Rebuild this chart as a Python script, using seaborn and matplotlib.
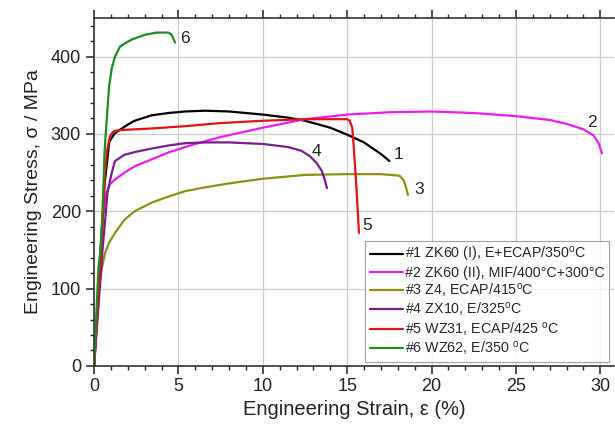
import matplotlib
matplotlib.use("Agg")
import matplotlib.pyplot as plt
from matplotlib.ticker import MultipleLocator
import seaborn as sns
import pandas as pd

# strain (%) / stress (MPa)
s1_x = [0, 0.3, 0.6, 0.9, 1.2, 1.5, 2, 2.4, 3.4, 4.4, 5.4, 6.6, 8, 10, 11.5, 12.5, 14, 15, 16, 17, 17.5]
s1_y = [0, 110, 230, 290, 300, 305, 312, 317, 324, 327, 329, 330, 329, 325, 321, 317, 308, 299, 289, 274, 265]

s2_x = [0, 0.3, 0.5, 0.7, 0.94, 1.24, 1.8, 2.4, 3.4, 4.4, 5.4, 6, 7.5, 10, 12.5, 15, 17.5, 20, 22.5,
        25, 27, 28, 29, 29.6, 29.9, 30.1]
s2_y = [0, 120, 190, 222, 235, 241, 250, 258, 267, 276, 283, 287, 296, 308, 319, 325, 328, 329, 327,
        323, 318, 313, 306, 298, 288, 275]

s3_x = [0, 0.3, 0.45, 0.65, 0.9, 1.24, 1.8, 2.4, 3.4, 4.4, 5.4, 6.6, 8, 10, 12.5, 15, 17, 18.1, 18.35,
        18.5, 18.6]
s3_y = [0, 100, 125, 146, 160, 172, 189, 200, 211, 219, 226, 231, 236, 242, 247, 248, 248, 246, 240,
        230, 221]

s4_x = [0, 0.5, 0.8, 1.05, 1.24, 1.8, 2.5, 3.4, 4.4, 5.4, 6.6, 8, 10, 11.5, 12.3, 12.8, 13.2, 13.5,
        13.65, 13.8]
s4_y = [0, 150, 225, 250, 265, 273, 277, 281, 285, 288, 289, 289, 287, 283, 278, 271, 262, 252, 242, 230]

s5_x = [0, 0.39, 0.55, 0.65, 0.75, 0.94, 1.1, 1.24, 1.6, 3.4, 5.4, 7.5, 10, 12.5, 15, 15.15, 15.3, 15.4,
        15.55, 15.7]
s5_y = [0, 146, 200, 250, 276, 297, 302, 304, 305, 307, 310, 314, 317, 319, 319, 317, 308, 280, 230, 172]

s6_x = [0, 0.26, 0.36, 0.5, 0.62, 0.69, 0.89, 1.05, 1.24, 1.54, 1.9, 2.23, 3.0, 3.7, 4.4, 4.6, 4.7, 4.8]
s6_y = [0, 128, 146, 200, 276, 300, 362, 385, 400, 413, 418, 422, 428, 431, 431, 428, 423, 418]

names = ["#1 ZK60 (I), E+ECAP/350$^{\\rm o}$C",
         "#2 ZK60 (II), MIF/400°C+300°C",
         "#3 Z4, ECAP/415$^{\\rm o}$C",
         "#4 ZX10, E/325$^{\\rm o}$C",
         "#5 WZ31, ECAP/425 $^{\\rm o}$C",
         "#6 WZ62, E/350 $^{\\rm o}$C"]
colors = ["#000000", "#f01af0", "#8f8f14", "#781e87", "#e01414", "#1e8c1e"]
curve_ids = ["1", "2", "3", "4", "5", "6"]
label_x = [17.75, 29.2, 19.0, 12.9, 15.9, 5.1]
label_y = [274, 315, 228, 277, 181, 423]

xs = [s1_x, s2_x, s3_x, s4_x, s5_x, s6_x]
ys = [s1_y, s2_y, s3_y, s4_y, s5_y, s6_y]

sns.set_style("whitegrid")
plt.rcParams['font.family'] = ['Liberation Sans', 'DejaVu Sans']
plt.rcParams['mathtext.fontset'] = 'custom'
plt.rcParams['mathtext.rm'] = 'Liberation Sans'

fig = plt.figure(figsize=(6.15, 4.26), dpi=100)
ax = fig.add_axes([0.153, 0.141, 0.845, 0.817])

for i in range(6):
    df = pd.DataFrame({"strain": xs[i], "stress": ys[i]})
    sns.lineplot(data=df, x="strain", y="stress", sort=False, estimator=None,
                 color=colors[i], linewidth=1.6, label=names[i], ax=ax)
    ax.text(label_x[i], label_y[i], curve_ids[i], fontsize=12.5, ha="left", va="center",
            color="#222222")

ax.set_xlim(0, 30.8)
ax.set_ylim(0, 450)
ax.xaxis.set_major_locator(MultipleLocator(5))
ax.xaxis.set_minor_locator(MultipleLocator(1))
ax.yaxis.set_major_locator(MultipleLocator(100))
ax.yaxis.set_minor_locator(MultipleLocator(20))
ax.grid(True, which="major", color="#cccccc", linewidth=0.9)
ax.grid(False, which="minor")
for side in ["left", "bottom", "top"]:
    ax.spines[side].set_color("#333333")
    ax.spines[side].set_linewidth(1.2)
ax.spines["right"].set_visible(False)
ax.tick_params(which="major", direction="out", length=6, width=1.1, labelsize=13,
               top=True, bottom=True, left=True, right=False, colors="#222222")
ax.tick_params(which="minor", direction="out", length=3, width=1,
               top=True, bottom=True, left=True, right=False, colors="#222222")
ax.tick_params(axis="x", labeltop=False, pad=3)

ax.set_xlabel("Engineering Strain, ε (%)", fontsize=14.5, color="#222222", labelpad=3)
ax.set_ylabel("Engineering Stress, σ / MPa", fontsize=14, color="#222222", labelpad=6)

leg = ax.legend(loc="lower right", fontsize=10.3, frameon=True, fancybox=False,
                handlelength=2.3, handletextpad=0.2, borderpad=0.3, labelspacing=0.1,
                borderaxespad=0.3)
leg.get_frame().set_edgecolor("#888888")
leg.get_frame().set_linewidth(0.8)

fig.savefig("out.png", dpi=100)
